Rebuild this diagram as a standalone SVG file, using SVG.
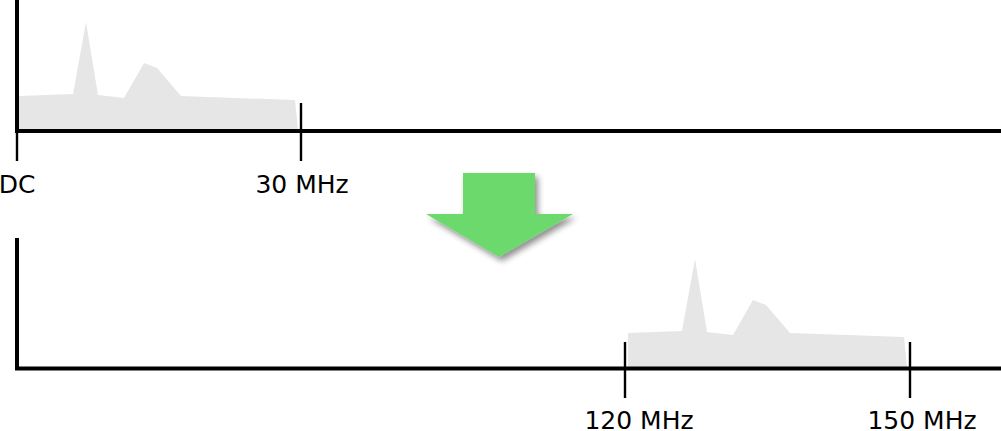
<svg xmlns="http://www.w3.org/2000/svg" width="1001" height="431" viewBox="0 0 1001 431">
<defs>
<style>
.axis{stroke:#000;stroke-width:4;fill:none}
.tick{stroke:#000;stroke-width:2.4;fill:none}
.spec{fill:#e6e6e6;stroke:none}
.lbl{font-family:"DejaVu Sans",sans-serif;font-size:25px;fill:#000;text-anchor:middle}
</style>
<filter id="sh" x="-30%" y="-30%" width="160%" height="160%">
<feGaussianBlur in="SourceAlpha" stdDeviation="3"/>
<feOffset dx="3" dy="4" result="b"/>
<feComponentTransfer><feFuncA type="linear" slope="0.45"/></feComponentTransfer>
<feMerge><feMergeNode/><feMergeNode in="SourceGraphic"/></feMerge>
</filter>
<path id="spectrum" d="M19,96 L73,94 L86,22 L98,95 L124,98 L144,63 L157,68 L181,96 L295,100 L298,130 L19,130 Z"/>
</defs>
<g id="top-spectrum">
<use href="#spectrum" class="spec"/>
<path class="axis" d="M17,0 V131 H1001"/>
<path class="tick" d="M17,131 V161 M301,103 V161"/>
<text class="lbl" x="17" y="193">DC</text>
<text class="lbl" x="302" y="193">30 MHz</text>
</g>
<g id="arrow">
<path d="M463,173 H535 V214 H573 L499,257 L426,214 H463 Z" fill="#6cd96c" filter="url(#sh)"/>
</g>
<g id="bottom-spectrum">
<use href="#spectrum" class="spec" transform="translate(609,237)"/>
<path class="axis" d="M17,238 V368.5 H1001"/>
<path class="tick" d="M625,342 V398 M910,342 V398"/>
<text class="lbl" x="639" y="429">120 MHz</text>
<text class="lbl" x="922" y="429">150 MHz</text>
</g>
</svg>
